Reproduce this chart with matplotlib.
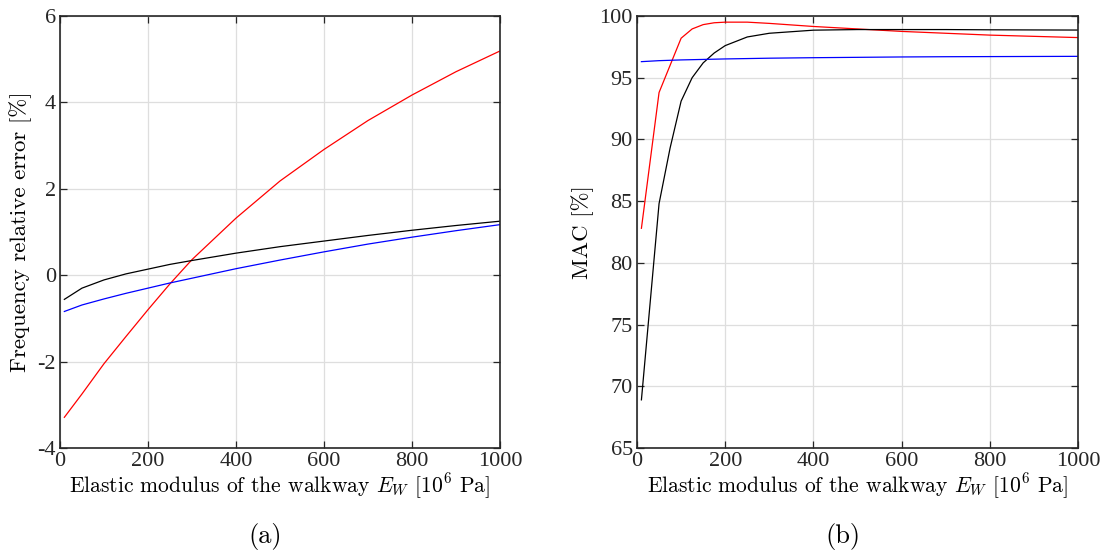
import numpy as np
import matplotlib.pyplot as plt

# elastic modulus of the walkway [1e6 Pa]
E_w = [10, 50, 100, 150, 200, 250, 300, 400, 500, 600, 700, 800, 900, 1000]

# (a) frequency relative error [%]
err_red = [-3.29, -2.75, -2.05, -1.42, -0.80, -0.20, 0.36, 1.32, 2.18, 2.91, 3.58, 4.17, 4.71, 5.19]
err_black = [-0.56, -0.30, -0.11, 0.03, 0.14, 0.25, 0.34, 0.51, 0.66, 0.79, 0.92, 1.04, 1.15, 1.25]
err_blue = [-0.84, -0.69, -0.55, -0.42, -0.30, -0.18, -0.07, 0.15, 0.35, 0.54, 0.72, 0.88, 1.03, 1.17]

# (b) MAC [%]
E_mac = [10, 50, 75, 100, 125, 150, 175, 200, 250, 300, 400, 500, 600, 700, 800, 900, 1000]
mac_red = [82.8, 93.8, 96.0, 98.2, 98.95, 99.3, 99.45, 99.5, 99.5, 99.4, 99.15, 98.95, 98.75, 98.6, 98.45, 98.35, 98.25]
mac_black = [68.9, 84.8, 89.3, 93.1, 95.0, 96.2, 97.0, 97.6, 98.3, 98.6, 98.85, 98.9, 98.9, 98.9, 98.88, 98.87, 98.86]
mac_blue = [96.3, 96.38, 96.41, 96.44, 96.46, 96.48, 96.5, 96.52, 96.55, 96.58, 96.62, 96.65, 96.68, 96.7, 96.71, 96.72, 96.73]

plt.rcParams['mathtext.fontset'] = 'cm'
plt.rcParams['axes.unicode_minus'] = False

tickfont = 'Liberation Serif'
labfont = 'cmr10'
axcol = '#262626'

fig = plt.figure(figsize=(11.04, 5.53), dpi=100)
ax1 = fig.add_axes([0.0543, 0.1899, 0.3986, 0.7812])
ax2 = fig.add_axes([0.577, 0.1899, 0.3995, 0.7812])

def style(ax, ylim, yticks):
    ax.set_xlim(0, 1000)
    ax.set_ylim(*ylim)
    ax.set_xticks([0, 200, 400, 600, 800, 1000])
    ax.set_yticks(yticks)
    ax.grid(True, color='#dedede', linewidth=0.9)
    ax.set_axisbelow(True)
    for s in ax.spines.values():
        s.set_color(axcol)
        s.set_linewidth(1.2)
    ax.tick_params(direction='in', top=True, right=True, length=5, width=0.9,
                   colors=axcol, labelsize=16, pad=3)
    for lab in ax.get_xticklabels() + ax.get_yticklabels():
        lab.set_fontfamily(tickfont)
        lab.set_color('#262626')
    ax.set_xlabel(r'Elastic modulus of the walkway $E_W$ [10$^6$ Pa]',
                  family=labfont, fontsize=15.5, labelpad=0)

ax1.plot(E_w, err_red, color='red', linewidth=0.9)
ax1.plot(E_w, err_black, color='black', linewidth=0.9)
ax1.plot(E_w, err_blue, color='blue', linewidth=0.9)
style(ax1, (-4, 6), [-4, -2, 0, 2, 4, 6])
ax1.set_ylabel('Frequency relative error [%]', family=labfont, fontsize=16.5, labelpad=4)

ax2.plot(E_mac, mac_red, color='red', linewidth=0.9)
ax2.plot(E_mac, mac_black, color='black', linewidth=0.9)
ax2.plot(E_mac, mac_blue, color='blue', linewidth=0.9)
style(ax2, (65, 100), [65, 70, 75, 80, 85, 90, 95, 100])
ax2.set_ylabel('MAC [%]', family=labfont, fontsize=16.5, labelpad=4)

fig.text(265 / 1104, 1 - 537 / 553, '(a)', family=labfont, fontsize=19, ha='center', va='center')
fig.text(843 / 1104, 1 - 537 / 553, '(b)', family=labfont, fontsize=19, ha='center', va='center')

fig.savefig('out.png', dpi=100)
